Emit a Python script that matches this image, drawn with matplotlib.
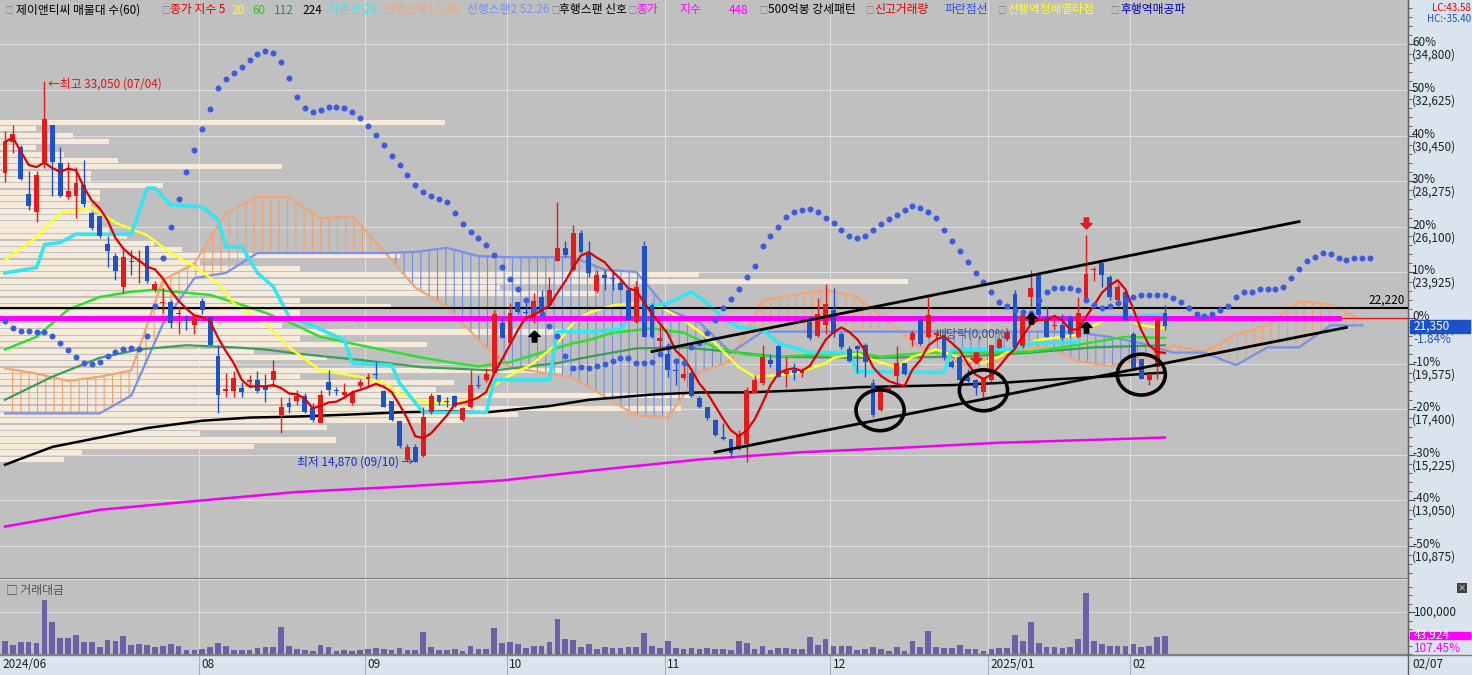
import numpy as np
import pandas as pd
import matplotlib

matplotlib.use("Agg")
import matplotlib.pyplot as plt  # noqa: E402
from matplotlib.patches import Ellipse, Rectangle  # noqa: E402
from matplotlib.path import Path  # noqa: E402
from matplotlib.ticker import AutoMinorLocator, MultipleLocator  # noqa: E402
from matplotlib.transforms import offset_copy  # noqa: E402

plt.rcParams["font.family"] = ["Noto Sans CJK KR", "DejaVu Sans"]
plt.rcParams["hatch.linewidth"] = 0.8

# ---------------- data (daily candles 2024/06/27 .. 2025/02/07) ----------------
opens = [28650, 30150, 29900, 27650, 26800, 29200, 30950, 29150, 27500, 27550,
         28100, 26750, 26600, 25300, 24700, 23250, 24450, 24400, 25200, 23100,
         22450, 22500, 21950, 21650, 21400, 22550, 21800, 19950, 18250, 18250,
         18400, 18700, 18800, 18450, 18800, 17100, 17700, 17800, 18050, 17450,
         16750, 18700, 18300, 18100, 17700, 18500, 18850, 19100, 18250, 17800,
         16850, 15000, 15600, 15150, 17250, 18100, 17800, 18050, 16900, 17500,
         18550, 18800, 19150, 21500, 20550, 22500, 22050, 21750, 22750, 22350,
         24450, 25100, 24050, 25800, 24900, 23050, 23800, 23650, 23400, 23100,
         21550, 25200, 22350, 20650, 20050, 19250, 18900, 19150, 17950, 17500,
         16900, 16050, 16000, 15550, 15750, 18150, 18650, 19750, 20400, 19100,
         19250, 19150, 21550, 20900, 21400, 22150, 21000, 20250, 20400, 20450,
         18650, 17350, 18250, 19000, 19600, 20700, 21650, 20850, 20950, 20950,
         19650, 19900, 18950, 18800, 18200, 18800, 20300, 20750, 22900, 20400,
         22750, 23900, 21800, 21350, 21400, 21750, 20850, 22600, 24050, 24350,
         23700, 22600, 23000, 21000, 19800, 18800, 19400, 22000]
highs = [30650, 30950, 30000, 28750, 28750, 33050, 30950, 29900, 29200, 28950,
         29300, 26800, 26600, 25650, 24850, 25150, 25000, 25000, 25250, 23500,
         23200, 22600, 22300, 21900, 21950, 22700, 21800, 20450, 19150, 19200,
         18700, 19050, 19200, 19100, 19750, 18000, 18000, 18300, 18150, 17700,
         18300, 19250, 18450, 18650, 18300, 18850, 19150, 19650, 18300, 17800,
         16850, 15750, 15750, 17500, 18150, 18100, 18000, 18100, 17500, 19250,
         19050, 19350, 22150, 21800, 22450, 22500, 22450, 22950, 23100, 23700,
         27300, 25400, 26200, 25950, 25400, 24050, 24050, 24050, 23550, 23100,
         23500, 25400, 22450, 21350, 20550, 19750, 19750, 19200, 18050, 17500,
         16950, 16750, 16000, 16400, 18450, 19050, 20450, 20050, 20450, 19900,
         19600, 19350, 21800, 22700, 23350, 23200, 21100, 20400, 20450, 20550,
         18850, 18300, 18550, 20400, 19600, 21200, 21750, 22750, 21100, 21000,
         19750, 20000, 19300, 18850, 18950, 20450, 20850, 21200, 23100, 21950,
         24050, 23900, 22300, 21750, 21950, 21900, 22750, 25700, 24200, 24350,
         23800, 23350, 23100, 21100, 19800, 19100, 21750, 22350]
lows = [28250, 29600, 28350, 26900, 26350, 28900, 27550, 27500, 27450, 26500,
        27050, 25950, 25550, 24200, 23550, 22950, 23800, 23400, 23400, 23000,
        22000, 21250, 21000, 21200, 21000, 21950, 20450, 17200, 18000, 18000,
        18000, 18450, 18150, 17750, 18450, 16250, 17200, 17600, 17200, 16800,
        16750, 18100, 18100, 18000, 17600, 18400, 18450, 18850, 17500, 16850,
        15550, 14870, 14870, 15100, 17150, 17600, 17500, 17500, 16850, 17450,
        18400, 18700, 19150, 20800, 20550, 21950, 21900, 21500, 21950, 22350,
        24450, 24650, 24000, 24850, 23700, 22950, 23100, 23100, 23100, 21650,
        21500, 20850, 20800, 20250, 18950, 18550, 18800, 18000, 17450, 16900,
        16100, 15950, 15050, 15450, 14900, 18150, 18550, 19400, 18950, 18450,
        18800, 18950, 20700, 20850, 21000, 20850, 20250, 19650, 19150, 18950,
        17050, 17300, 18150, 18550, 19050, 20400, 20450, 20800, 20700, 19750,
        19350, 18800, 18650, 18100, 17950, 18700, 20300, 20650, 20300, 20300,
        22300, 21800, 20850, 21200, 20700, 20850, 20800, 22550, 23500, 23250,
        22600, 22450, 21600, 19350, 18850, 18550, 18850, 21200]
closes = [30150, 30550, 28400, 27100, 28550, 31250, 29200, 27550, 27800, 28200,
          27200, 26050, 25650, 24950, 24000, 24650, 24400, 24450, 23500, 23350,
          22500, 21500, 22000, 21600, 21750, 22150, 20450, 18100, 18350, 18900,
          18200, 18800, 18250, 18300, 19200, 17500, 17500, 18050, 17250, 16900,
          18100, 18300, 18250, 18200, 18150, 18700, 18950, 19050, 17500, 16900,
          15650, 15600, 14900, 17050, 18050, 17750, 17750, 17550, 17450, 18550,
          18500, 19100, 21950, 20800, 22000, 22050, 22000, 22550, 22000, 23100,
          25100, 24750, 25800, 24900, 23900, 23800, 23650, 23600, 23100, 21650,
          23250, 20850, 20850, 20800, 19250, 19200, 19100, 18050, 17500, 17000,
          16150, 16000, 15300, 16150, 18300, 18800, 19900, 19550, 18950, 19200,
          19150, 19250, 20800, 21950, 22400, 21000, 20350, 19700, 20250, 19650,
          17100, 18250, 18450, 19600, 19100, 21050, 20500, 21900, 21050, 19900,
          19400, 18800, 18750, 18400, 18850, 20450, 20750, 21100, 20300, 21900,
          23200, 21900, 20850, 21400, 20800, 21000, 22000, 23850, 24100, 23800,
          22750, 23250, 21650, 19350, 18850, 19100, 21750, 21350]
# 거래대금 (백만원)
volumes = [32000, 22400, 28800, 28800, 26400, 129600, 77600, 39200, 39200, 45600,
           28800, 28800, 16800, 33600, 31200, 43200, 22400, 24000, 21600, 16000,
           18400, 24000, 19200, 9600, 9600, 12000, 17600, 26400, 20000, 9600,
           9600, 9600, 14400, 16800, 16800, 65600, 19200, 12000, 9600, 8000,
           21600, 16800, 7200, 9600, 8000, 9600, 12800, 14400, 12000, 9600,
           14400, 9600, 9600, 53600, 16800, 9600, 9600, 12000, 7200, 19200,
           12000, 12000, 63200, 26400, 28800, 24000, 14400, 19200, 19200, 28800,
           84000, 36000, 33600, 16800, 24000, 12000, 16800, 14400, 14400, 16800,
           16800, 50400, 19200, 14400, 31200, 14400, 12000, 14400, 12000, 14400,
           12000, 12000, 9600, 31200, 26400, 12000, 19200, 9600, 14400, 14400,
           12000, 12000, 40800, 21600, 36000, 19200, 19200, 19200, 9600, 12000,
           16800, 12000, 7200, 16800, 7200, 31200, 16800, 55200, 16800, 14400,
           14400, 21600, 12000, 12000, 7200, 12000, 14400, 14400, 45600, 31200,
           76800, 26400, 16800, 16800, 14400, 16800, 36000, 146400, 31200, 24000,
           19200, 19200, 19200, 24000, 16800, 19200, 40900, 43924]

# moving averages (index, price)
ma20_idx = [0, 4, 7, 11, 14, 18, 21, 24, 27, 29, 33, 36, 40, 45, 48, 50, 53, 57, 60, 63,
            67, 70, 72, 74, 77, 80, 83, 86, 90, 93, 95, 99, 101, 104, 105, 108, 110, 113,
            115, 118, 121, 124, 126, 128, 131, 134, 136, 138, 140, 142, 144, 147]
ma20_val = [24500, 25600, 26750, 27000, 26300, 25700, 24850, 24200, 23400, 22450,
            21500, 20350, 19250, 18950, 18650, 18150, 17750, 17750, 17950, 18800,
            19600, 20550, 21500, 22000, 22350, 22450, 22300, 21650, 20550, 19400,
            18950, 19050, 19200, 19600, 19850, 20050, 19750, 19400, 19900, 20250,
            19850, 19600, 19900, 20350, 20700, 20850, 20950, 21400, 21750, 21750,
            21400, 21250]
ma60_idx = [0, 4, 8, 12, 16, 19, 23, 26, 29, 33, 36, 40, 45, 49, 53, 57, 60, 64, 68,
            72, 74, 77, 82, 86, 90, 94, 98, 103, 108, 111, 117, 125, 130, 134, 138, 142, 147]
ma60_val = [20250, 20850, 22150, 22750, 23000, 23100, 22950, 22850, 22500, 22000,
            21550, 20850, 20450, 20150, 19850, 19600, 19450, 19650, 20100, 20550,
            20700, 21050, 21250, 21050, 20350, 20000, 19900, 20000, 20100, 19900,
            20100, 20100, 20150, 20350, 20600, 20850, 20800]
ma112_idx = [0, 6, 12, 17, 23, 29, 33, 37, 45, 53, 62, 70, 74, 80, 86, 93, 98, 108,
             121, 130, 138, 147]
ma112_val = [17850, 18950, 19850, 20250, 20450, 20350, 20250, 20050, 19750, 19400,
             19250, 19600, 19900, 20300, 20350, 20100, 19900, 19850, 19900, 20100,
             20350, 20450]
ma224_idx = [0, 6, 12, 18, 25, 31, 37, 44, 50, 56, 61, 69, 74, 82, 88, 94, 101, 108,
             120, 126, 132, 139, 147]
ma224_val = [14750, 15600, 16050, 16500, 16850, 17000, 17050, 17150, 17250, 17300,
             17250, 17550, 17850, 18100, 18200, 18200, 18300, 18450, 18550, 18650,
             18800, 18950, 19150]
ma448_idx = [0, 12, 25, 37, 50, 63, 75, 88, 101, 113, 126, 139, 147]
ma448_val = [11800, 12600, 13050, 13450, 13700, 14000, 14500, 15000, 15350, 15550,
             15800, 15950, 16050]
kijun_idx = [0, 4, 5, 7, 9, 16, 18, 19, 21, 25, 27, 28, 30, 32, 34, 36, 38, 43, 44, 49,
             50, 53, 61, 62, 69, 70, 74, 78, 80, 82, 84, 87, 89, 91, 93, 96, 98, 102,
             107, 108, 119, 120, 128, 130, 136, 137, 147]
kijun_val = [23900, 24150, 25250, 25350, 25750, 25750, 27950, 27950, 27150, 27050,
             26450, 25150, 25150, 23900, 23250, 21800, 21550, 20700, 19600, 19500,
             18650, 17250, 17250, 18800, 18800, 21100, 21100, 21200, 22350, 22350,
             22450, 23000, 22450, 21750, 21300, 21200, 20550, 20100, 20100, 19200,
             19150, 20250, 20250, 20550, 20600, 21800, 21900]

# ichimoku cloud, sampled every 4 sessions (shifted 26 ahead)
span_idx = np.arange(0, 173, 4)
span1 = [19350, 19100, 18750, 18950, 19250, 23550, 24350, 26750, 27550, 27500,
         26500, 26600, 24950, 23200, 22300, 20700, 19400, 19150, 18900, 18000,
         17100, 17000, 19150, 19700, 22600, 22850, 23100, 22750, 21550, 20350,
         19750, 19250, 20250, 20400, 19700, 19450, 19750, 20450, 20150, 20950,
         21400, 22550, 22400, 21650]
span2 = [17200, 17200, 17200, 17200, 18050, 21450, 23650, 23900, 24850, 24850,
         24850, 24850, 24850, 24900, 25100, 24700, 24650, 24650, 24650, 24050,
         23950, 22150, 21550, 20100, 21100, 21100, 21100, 21100, 21100, 21100,
         21100, 21100, 21100, 21100, 21050, 20850, 20550, 20100, 20100, 19500,
         20350, 20350, 21400, 21400]

# blue dotted line (one dot per session)
dots = [21600, 21250, 21150, 21150, 21100, 21100, 20900, 20550, 20200, 19900,
        19600, 19550, 19650, 19950, 20150, 20250, 20300, 20250, 20900, 22300,
        24600, 26100, 27450, 28700, 29750, 30750, 31700, 32700, 33150, 33450,
        33700, 34050, 34350, 34500, 34400, 33950, 33200, 32300, 31750, 31600,
        31650, 31800, 31800, 31750, 31600, 31300, 30900, 30500, 30000, 29500,
        29050, 28550, 28100, 27750, 27550, 27450, 27300, 26750, 26250, 25850,
        25550, 25250, 24750, 24200, 23600, 23150, 22600, 22200, 21950, 21350,
        20900, 19950, 19350, 19400, 19350, 19450, 19550, 19700, 19850, 19850,
        19600, 19600, 19650, 20050, 20350, 19700, 19600, 20350, 20550, 21050,
        21650, 22250, 22650, 23150, 23700, 24250, 25200, 25650, 26100, 26550,
        26800, 26900, 26950, 26800, 26500, 26300, 25950, 25650, 25550, 25650,
        25950, 26250, 26450, 26650, 26900, 27100, 27000, 26800, 26500, 25950,
        25400, 24950, 24400, 23900, 23450, 23000, 22500, 22300, 22150, 22050,
        22000, 22600, 23000, 23200, 23200, 23200, 23100, 22600, 22350, 22250,
        22300, 22450, 22600, 22750, 22850, 22850, 22850, 22850, 22700, 22500,
        22250, 21950, 21850, 21950, 22150, 22300, 22750, 23000, 23000, 23150,
        23150, 23150, 23250, 23650, 24100, 24450, 24650, 24850, 24800, 24600,
        24500, 24600, 24600, 24600]

# volume profile (매물대 60), % of the largest band, bottom -> top
profile_pct = [7, 9, 28, 37, 22, 36, 51, 57, 75, 51,
               76, 48, 50, 33, 62, 26, 36, 28, 47, 33,
               62, 31, 39, 33, 43, 33, 66, 55, 100, 77,
               33, 22, 44, 20, 17, 14, 12, 11, 11, 10,
               10, 11, 11, 18, 10, 10, 31, 13, 7, 4,
               12, 8, 4, 49, 0, 0, 0, 0, 0, 0]

trend_upper_idx, trend_upper_val = [82, 164], [20150, 26350]
trend_lower_idx, trend_lower_val = [90, 170], [15350, 21300]
circle_idx = [110.9, 124.0, 144.0]
circle_val = [17350, 18300, 19050]
buy_idx, buy_val = [67, 130, 137], [20900, 21750, 21300]
sell_idx, sell_val = [137, 123], [26300, 19850]

pct_ticks = [60, 50, 40, 30, 20, 10, 0, -10, -20, -30, -40, -50]
price_ticks = [34800, 32625, 30450, 28275, 26100, 23925, 21750, 19575, 17400, 15225, 13050, 10875]
prev_close, last_close, line_22220 = 21750, 21350, 22220
hi_idx, hi_val, lo_idx, lo_val = 5, 33050, 52, 14870

month_idx = [25, 46, 64, 84, 105, 125, 143]
month_lab = ["08", "09", "10", "11", "12", "2025/01", "02"]

# ---------------- style ----------------
BG, PANEL, GRID, PROF = "#c0c0c0", "#dae3ee", "#dedede", "#f6eadb"
UP, DOWN = "#e41b1b", "#1f52c8"
FW, FH = 1472, 675
XLIM = (-0.63, 177.8)


def fy(py):
    return 1 - py / FH


fig = plt.figure(figsize=(FW / 100, FH / 100), dpi=100, facecolor=PANEL)
ax = fig.add_axes([0, fy(578), 1408 / FW, fy(0) - fy(578)], facecolor=BG)
axv = fig.add_axes([0, fy(654), 1408 / FW, fy(580) - fy(654)], facecolor=BG)
axd = fig.add_axes([0, 0, 1408 / FW, fy(655)], facecolor=PANEL)

x = np.arange(len(closes))
o, h, l, c = map(np.asarray, (opens, highs, lows, closes))

ax.set_xlim(*XLIM)
ax.set_ylim(9348, 36919)
for p in price_ticks:
    ax.axhline(p, color=GRID, lw=0.8, zorder=0.5)
for m in month_idx:
    ax.axvline(m - 0.4, color=GRID, lw=0.8, zorder=0.5)
    axv.axvline(m - 0.4, color=GRID, lw=0.8, zorder=0.5)

# volume profile
band = (hi_val - lo_val) / len(profile_pct)
centers = lo_val + band * (np.arange(len(profile_pct)) + 0.5)
ax.barh(centers, np.asarray(profile_pct) / 100 * 115.1, height=band * 0.8,
        left=XLIM[0], color=PROF, zorder=1)

# ichimoku cloud
s1, s2 = np.asarray(span1, float), np.asarray(span2, float)
ax.fill_between(span_idx, s1, s2, where=s1 >= s2, interpolate=True, facecolor="none",
                edgecolor="#f4a06a", hatch="||", linewidth=0, zorder=2)
ax.fill_between(span_idx, s1, s2, where=s1 < s2, interpolate=True, facecolor="none",
                edgecolor="#6f8de6", hatch="||", linewidth=0, zorder=2)
ax.plot(span_idx, s1, color="#f4a474", lw=1.6, zorder=2.2)
ax.plot(span_idx, s2, color="#7890e8", lw=1.6, zorder=2.2)

# lines
ax.plot(ma448_idx, ma448_val, color="#f000f0", lw=1.8, zorder=3)
ax.plot(ma224_idx, ma224_val, color="black", lw=1.8, zorder=3)
ax.plot(ma112_idx, ma112_val, color="#3c9c5c", lw=1.6, zorder=3)
ax.plot(ma60_idx, ma60_val, color="#2ee02e", lw=1.8, zorder=3)
ax.plot(ma20_idx, ma20_val, color="#ffff30", lw=1.8, zorder=3)
ax.plot(kijun_idx, kijun_val, color="#34e6f2", lw=2.6, zorder=3.1)
ax.axhline(prev_close, color="#e41b1b", lw=1, zorder=3.2)
ax.plot([XLIM[0], 169], [prev_close, prev_close], color="#ff00ff", lw=3.6, zorder=3.3)
ax.axhline(line_22220, color="black", lw=1.5, zorder=3.4)

# candles
col = np.where(c >= o, UP, DOWN)
ax.vlines(x, l, h, colors=col, lw=1, zorder=4)
ax.bar(x, np.maximum(np.abs(c - o), 45), bottom=np.minimum(o, c), width=0.62,
       color=col, linewidth=0, zorder=4.1)
ma5 = pd.Series(closes, dtype=float).rolling(5, min_periods=1).mean()
ax.plot(x, ma5, color="#e00000", lw=1.6, zorder=4.5)
ax.plot(np.arange(len(dots)), dots, ls="none", marker="o", ms=3.3, color="#3c5ce0", zorder=4.6)

# drawings
ax.plot(trend_upper_idx, trend_upper_val, color="black", lw=2, zorder=6)
ax.plot(trend_lower_idx, trend_lower_val, color="black", lw=2, zorder=6)
for ci, cv in zip(circle_idx, circle_val):
    ax.add_patch(Ellipse((ci, cv), 6.1, 1950, fill=False, ec="black", lw=2.6, zorder=6))
up_arrow = Path([(0, 1), (1, 0), (0.4, 0), (0.4, -1), (-0.4, -1), (-0.4, 0), (-1, 0), (0, 1)])
dn_arrow = Path([(0, -1), (1, 0), (0.4, 0), (0.4, 1), (-0.4, 1), (-0.4, 0), (-1, 0), (0, -1)])
ax.plot(buy_idx, buy_val, ls="none", marker=up_arrow, ms=8, color="black", zorder=7)
ax.plot(sell_idx, sell_val, ls="none", marker=dn_arrow, ms=8, color="#e41b1b", zorder=7)

ax.text(hi_idx + 0.5, hi_val - 150, "←최고 33,050 (07/04)", color="#e01010", fontsize=8.5,
        va="center", ha="left", zorder=8)
ax.text(lo_idx - 0.3, lo_val, "최저 14,870 (09/10) →", color="#1030d0", fontsize=8.5,
        va="center", ha="right", zorder=8)
ax.text(117.9, 20990, "배당락(0,00%)", color="#505050", fontsize=8.5, va="center", zorder=8)

yt = ax.get_yaxis_transform()
ax.text(0.998, line_22220, "22,220", transform=offset_copy(yt, fig=fig, y=2, units="dots"),
        ha="right", va="bottom", fontsize=8.5, color="black")

# right price axis
ax.yaxis.tick_right()
ax.set_yticks(price_ticks)
ax.set_yticklabels([])
ax.yaxis.set_minor_locator(AutoMinorLocator(5))
ax.tick_params(axis="y", which="major", direction="out", length=5, color="#505050")
ax.tick_params(axis="y", which="minor", direction="out", length=3, color="#505050")
ax.tick_params(axis="x", bottom=False, labelbottom=False)
lab_tr = offset_copy(yt, fig=fig, x=4, y=8, units="dots")
for pc, pr in zip(pct_ticks, price_ticks):
    ax.text(1.0, pr, f"{pc}%\n({pr:,})", transform=lab_tr, ha="left", va="top",
            fontsize=8.5, color="#202020", linespacing=0.95, clip_on=False)
ax.add_patch(Rectangle((1.0015, last_close - 310), 60 / 1408, 620, transform=yt,
                       color="#1c50c8", clip_on=False, zorder=10))
ax.text(1.004, last_close, f"{last_close:,}", transform=yt, color="white", fontsize=8.5,
        va="center", ha="left", clip_on=False, zorder=11)
ax.text(1.004, last_close - 620, "-1.84%", transform=yt, color="#1c50c8", fontsize=8.5,
        va="center", ha="left", clip_on=False, zorder=11)
for s in ("top", "left"):
    ax.spines[s].set_visible(False)
ax.spines["bottom"].set_color("#808080")
ax.spines["right"].set_color("#606060")

# legend row
legend = [("□", "#808080", 4), ("제이앤티씨 매물대 수(60)", "black", 16),
          ("□", "#808080", 161), ("종가 지수 5", "#e00000", 170), ("20", "#ffff30", 231),
          ("60", "#20d020", 252), ("112", "#2e8b57", 274), ("224", "black", 302),
          ("기준선 26", "#30e8f0", 328), ("선행스팬1 9.36", "#f4a474", 384),
          ("선행스팬2 52.26", "#7890e8", 467), ("□", "#808080", 551),
          ("후행스팬 신호", "black", 559), ("□", "#808080", 628),
          ("종가", "#ff00ff", 636), ("지수", "#ff00ff", 679), ("448", "#ff00ff", 729),
          ("□", "#808080", 759), ("500억봉 강세패턴", "black", 768), ("□", "#808080", 865),
          ("신고거래량", "#e00000", 874), ("파란점선", "#3050e0", 945), ("□", "#808080", 997),
          ("선행역정배열타점", "#ffff30", 1007), ("□", "#808080", 1110),
          ("후행역매공파", "#0000c0", 1120)]
for txt, clr, px in legend:
    fig.text(px / FW, fy(10), txt, color=clr, fontsize=6 if txt == "□" else 8.5,
             va="center", ha="left")
fig.text(1471 / FW, fy(8), "LC:43.58", color="#e00000", fontsize=7, va="center", ha="right")
fig.text(1471 / FW, fy(19), "HC:-35.40", color="#1c50c8", fontsize=7, va="center", ha="right")

# volume pane
axv.set_xlim(*XLIM)
axv.set_ylim(0, 177000)
axv.axhline(100000, color=GRID, lw=0.8, zorder=0.5)
axv.bar(x, volumes, width=0.72, color="#6a62a8", zorder=3)
axv.yaxis.tick_right()
axv.set_yticks([100000])
axv.set_yticklabels([])
axv.yaxis.set_minor_locator(MultipleLocator(20000))
axv.tick_params(axis="y", which="major", direction="out", length=5, color="#505050")
axv.tick_params(axis="y", which="minor", direction="out", length=3, color="#505050")
axv.tick_params(axis="x", bottom=False, labelbottom=False)
vt = axv.get_yaxis_transform()
axv.text(1.004, 100000, "100,000", transform=vt, fontsize=8.5, color="#202020",
         va="center", ha="left")
axv.add_patch(Rectangle((1.0015, volumes[-1] - 9000), 60 / 1408, 18000, transform=vt,
                        color="#ff00ff", clip_on=False, zorder=10))
axv.text(1.004, volumes[-1], f"{volumes[-1]:,}", transform=vt, color="white", fontsize=8.5,
         va="center", ha="left", clip_on=False, zorder=11)
axv.text(1.004, volumes[-1] - 30000, "107.45%", transform=vt, color="#ff00ff", fontsize=8.5,
         va="center", ha="left", clip_on=False, zorder=11)
axv.text(0.004, 0.86, "□ 거래대금", transform=axv.transAxes, fontsize=8.5, color="#505050",
         va="center")
fig.text(1462 / FW, fy(588), "×", fontsize=6, color="white", ha="center", va="center",
         bbox=dict(boxstyle="square,pad=0.1", fc="#404040", ec="none"))
for s in ("top", "left"):
    axv.spines[s].set_visible(False)
axv.spines["bottom"].set_color("#808080")
axv.spines["right"].set_color("#606060")

# date strip
axd.set_xlim(*XLIM)
axd.set_ylim(0, 1)
axd.axis("off")
axd.text(XLIM[0] + 0.3, 0.5, "2024/06", fontsize=8.5, color="#202020", va="center")
for m, lab in zip(month_idx, month_lab):
    axd.axvline(m - 0.4, color="#a8b0bc", lw=0.8)
    axd.text(m - 0.1, 0.5, lab, fontsize=8.5, color="#202020", va="center")
fig.text(1412 / FW, fy(665), "02/07", fontsize=8.5, color="#202020", va="center")
fig.add_artist(plt.Line2D([0, 1], [fy(655), fy(655)], color="#808080", lw=1))
fig.add_artist(plt.Line2D([1408 / FW] * 2, [0, 1], color="#606060", lw=1))

fig.savefig("out.png", dpi=100, facecolor=PANEL)
